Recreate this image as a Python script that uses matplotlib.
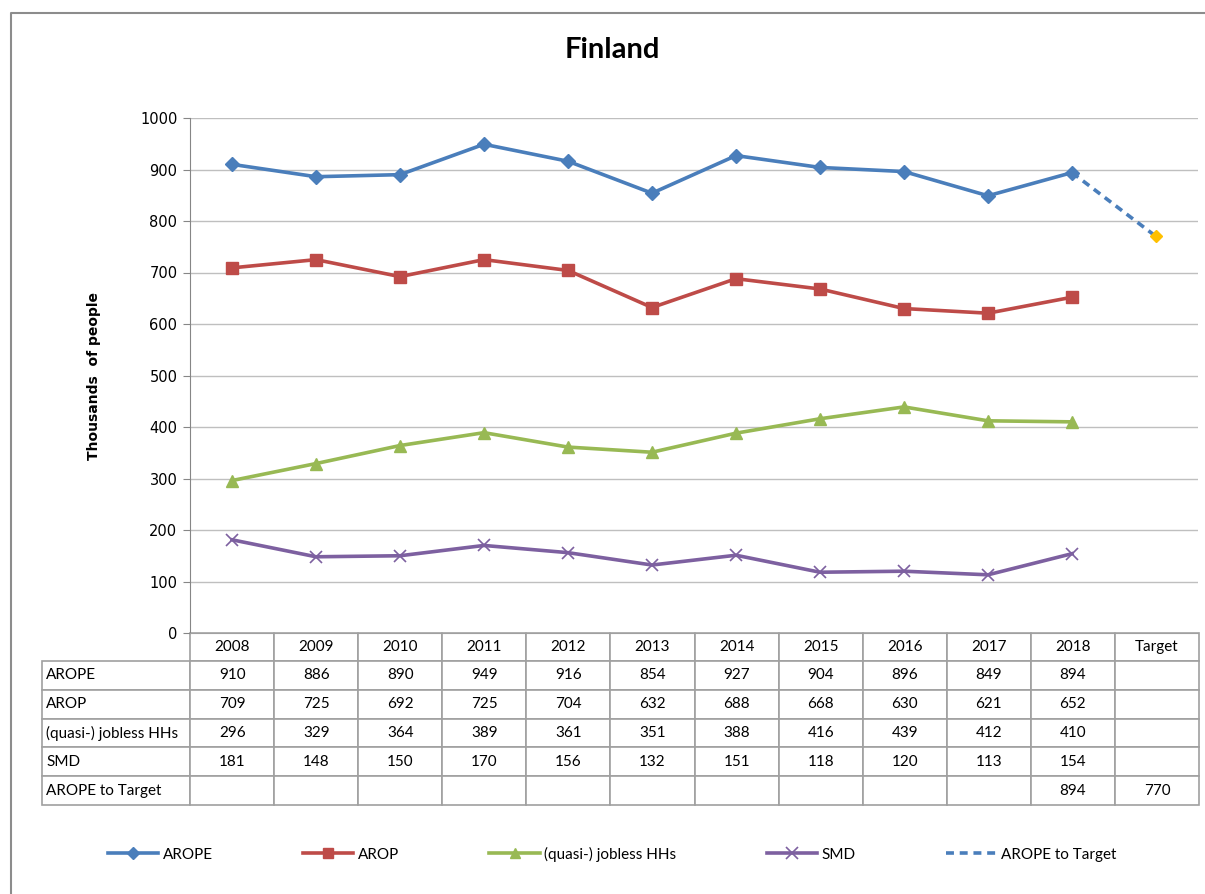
import matplotlib.pyplot as plt
from matplotlib.table import Table
from matplotlib.lines import Line2D

years = ['2008', '2009', '2010', '2011', '2012', '2013', '2014', '2015', '2016', '2017', '2018']
columns = years + ['Target']
arope = [910, 886, 890, 949, 916, 854, 927, 904, 896, 849, 894]
arop = [709, 725, 692, 725, 704, 632, 688, 668, 630, 621, 652]
jobless = [296, 329, 364, 389, 361, 351, 388, 416, 439, 412, 410]
smd = [181, 148, 150, 170, 156, 132, 151, 118, 120, 113, 154]
target_years = ['2018', 'Target']
arope_target = [894, 770]
row_names = ['AROPE', 'AROP', '(quasi-) jobless HHs', 'SMD', 'AROPE to Target']

c_arope = '#4A7EBB'
c_arop = '#BE4B48'
c_job = '#98B954'
c_smd = '#7D60A0'
c_tgt = '#FFC000'

W, H = 1205, 894
fig = plt.figure(figsize=(W / 100, H / 100), dpi=100)

# outer chart frame (only left and top edges are inside the picture)
fig.add_artist(Line2D([11 / W, 11 / W, 1.0], [0, 1 - 13 / H, 1 - 13 / H],
                      transform=fig.transFigure, color='#8C8C8C', lw=1.5))

ax = fig.add_axes([190 / W, 1 - 633 / H, 1008 / W, 515 / H])
xi = {c: i for i, c in enumerate(columns)}

ax.plot([xi[y] for y in years], arope, color=c_arope, lw=2.6, marker='D', ms=7, label='AROPE', zorder=4)
ax.plot([xi[y] for y in years], arop, color=c_arop, lw=2.6, marker='s', ms=8, label='AROP', zorder=4)
ax.plot([xi[y] for y in years], jobless, color=c_job, lw=2.6, marker='^', ms=8, label='(quasi-) jobless HHs', zorder=4)
ax.plot([xi[y] for y in years], smd, color=c_smd, lw=2.6, marker='x', ms=9, mew=1.2, label='SMD', zorder=4)
ax.plot([xi[y] for y in target_years], arope_target, color=c_arope, lw=2.6, ls=(0, (2.2, 1.6)), zorder=3)
ax.plot([xi['Target']], [arope_target[-1]], ls='none', marker='D', ms=6, color=c_tgt, zorder=5)

ax.set_xlim(-0.5, len(columns) - 0.5)
ax.set_ylim(0, 1000)
ax.set_yticks(range(0, 1001, 100))
ax.set_xticks([])
ax.grid(axis='y', color='#BFBFBF', lw=1)
ax.set_axisbelow(True)
for s in ['top', 'right']:
    ax.spines[s].set_visible(False)
ax.spines['left'].set_color('#868686')
ax.spines['bottom'].set_color('#A0A0A0')
ax.tick_params(axis='y', length=5, color='#868686', labelsize=10.5, pad=4)
ax.set_ylabel('Thousands  of people', fontsize=10, fontweight='bold', labelpad=28)

fig.text(612 / W, 1 - 50 / H, 'Finland', ha='center', va='center', fontsize=21,
         fontweight='bold', family='Lato')

# data table under the axis
rows = [arope, arop, jobless, smd]
label_w, col_w = 148, 84
tbl = Table(ax, bbox=[(42 - 190) / 1008, (633 - 805) / 515, (1199 - 42) / 1008, (805 - 633) / 515])
edge = '#A0A0A0'
for j, c in enumerate(columns):
    tbl.add_cell(0, j + 1, width=col_w, height=28, text=c, loc='center', edgecolor=edge)
for i, name in enumerate(row_names):
    cell = tbl.add_cell(i + 1, 0, width=label_w, height=28.8, text=name, loc='left', edgecolor=edge)
    cell.PAD = 0.03
    for j, c in enumerate(columns):
        txt = ''
        if i < 4 and c in years:
            txt = str(rows[i][years.index(c)])
        if i == 4 and c in target_years:
            txt = str(arope_target[target_years.index(c)])
        tbl.add_cell(i + 1, j + 1, width=col_w, height=28.8, text=txt, loc='center', edgecolor=edge)
tbl.auto_set_font_size(False)
tbl.set_fontsize(11)
for cell in tbl.get_celld().values():
    cell.set_linewidth(1.2)
    cell.get_text().set_fontfamily('Lato')
ax.add_table(tbl)

handles = [
    Line2D([], [], color=c_arope, lw=2.6, marker='D', ms=6),
    Line2D([], [], color=c_arop, lw=2.6, marker='s', ms=7),
    Line2D([], [], color=c_job, lw=2.6, marker='^', ms=7),
    Line2D([], [], color=c_smd, lw=2.6, marker='x', ms=8, mew=1.2),
    Line2D([], [], color=c_arope, lw=2.6, ls=(0, (2.2, 1.6))),
]
labels = ['AROPE', 'AROP', '(quasi-) jobless HHs', 'SMD', 'AROPE to Target']
fig.legend(handles, labels, loc='center', bbox_to_anchor=(612 / W, 1 - 854 / H), ncol=5,
           frameon=False, handlelength=3.3, handletextpad=0.3, columnspacing=5.9,
           prop={'family': 'Lato', 'size': 11})

fig.savefig('out.png', dpi=100)
